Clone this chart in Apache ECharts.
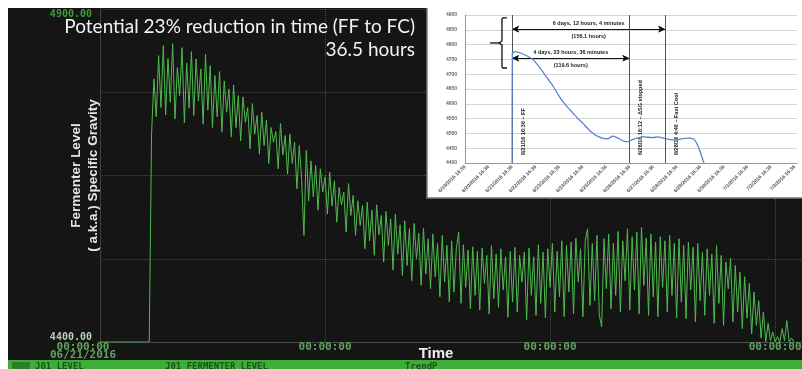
<!DOCTYPE html>
<html>
<head>
<meta charset="utf-8">
<script src="https://cdn.jsdelivr.net/npm/echarts@6.0.0/dist/echarts.min.js"></script>
<style>
  html, body { margin: 0; padding: 0; background: #ffffff; }
  #trend { position: absolute; left: 8px; top: 8px; width: 794px; height: 361px; }
</style>
</head>
<body>
<div id="trend"></div>
<script>
// main trend (J01 fermenter level), one sample every 45 minutes from 06/21/2016 00:00
const levelStartHour = 0;
const levelStepHours = 0.75;
const levelValues = [
  4400, 4400, 4400, 4400, 4400, 4400, 4400, 4400, 4400, 4400, 4400,
  4400, 4400, 4400, 4400, 4400, 4400, 4400, 4400, 4400, 4400, 4400,
  4712, 4795, 4738, 4830, 4752, 4845, 4741, 4826,
  4760, 4848, 4735, 4812, 4770, 4842, 4729, 4819, 4751, 4836,
  4740, 4825, 4762, 4810, 4727, 4832, 4748, 4815, 4722, 4800,
  4738, 4806, 4715, 4792, 4745, 4780, 4708, 4786, 4722, 4770,
  4702, 4768, 4730, 4752, 4690, 4758, 4712, 4740, 4682, 4745,
  4695, 4733, 4668, 4722, 4700, 4716, 4660, 4728, 4681, 4710,
  4652, 4712, 4668, 4700, 4630, 4695, 4645, 4560, 4688, 4612,
  4672, 4618, 4665, 4598, 4660, 4625, 4648, 4592, 4655, 4604,
  4642, 4580, 4632, 4606, 4625, 4565, 4638, 4590, 4620, 4560,
  4612, 4575, 4605, 4540, 4610, 4552, 4598, 4530, 4606, 4561,
  4590, 4520, 4596, 4545, 4585, 4508, 4592, 4532, 4576, 4500,
  4582, 4515, 4570, 4492, 4578, 4525, 4563, 4485, 4571, 4502,
  4555, 4480, 4562, 4498, 4548, 4468, 4560, 4490, 4545, 4460,
  4552, 4475, 4540, 4565, 4458, 4546, 4482, 4538, 4450, 4543,
  4470, 4536, 4448, 4541, 4488, 4530, 4442, 4545, 4465, 4532,
  4452, 4540, 4478, 4528, 4437, 4536, 4460, 4542, 4445, 4530,
  4490, 4535, 4433, 4541, 4470, 4528, 4440, 4546, 4458, 4535,
  4436, 4540, 4482, 4548, 4445, 4536, 4468, 4552, 4438, 4545,
  4475, 4550, 4442, 4556, 4490, 4540, 4438, 4552, 4570, 4455,
  4548, 4462, 4560, 4440, 4423, 4555, 4480, 4562, 4450, 4548,
  4470, 4566, 4445, 4552, 4492, 4570, 4448, 4558, 4478, 4565,
  4442, 4572, 4485, 4556, 4440, 4562, 4468, 4550, 4438, 4558,
  4482, 4552, 4445, 4560, 4470, 4548, 4436, 4555, 4460, 4545,
  4435, 4550, 4478, 4542, 4430, 4548, 4462, 4535, 4440, 4540,
  4470, 4532, 4428, 4545, 4458, 4530, 4425, 4520, 4480, 4526,
  4430, 4515, 4445, 4505, 4420, 4498, 4436, 4488, 4412, 4475,
  4425, 4462, 4406, 4445, 4400, 4428, 4402, 4415, 4400, 4408,
  4400, 4420, 4402, 4432, 4400, 4406, 4400
];
const mainTickHours = [0, 72, 144, 216];
const mainTickTimes = ["00:00:00", "00:00:00", "00:00:00", "00:00:00"];
const mainStartDate = "06/21/2016";

// inset (Excel chart), x in days from the first date label
const insetDateLabels = [
  "6/19/2016 16:36", "6/20/2016 16:36", "6/21/2016 16:36", "6/22/2016 16:36",
  "6/23/2016 16:36", "6/24/2016 16:36", "6/25/2016 16:36", "6/26/2016 16:36",
  "6/27/2016 16:36", "6/28/2016 16:36", "6/29/2016 16:36", "6/30/2016 16:36",
  "7/1/2016 16:36", "7/2/2016 16:36", "7/3/2016 16:36"
];
const insetDays = [
  2.0, 2.01, 2.12, 2.34, 2.55, 2.89, 3.10, 3.31, 3.52, 3.74, 3.95, 4.16, 4.37,
  4.59, 4.80, 5.01, 5.22, 5.44, 5.65, 5.86, 6.07, 6.28, 6.50, 6.71, 6.92,
  7.13, 7.35, 7.56, 7.77, 7.98, 8.20, 8.41, 8.62, 8.83, 9.04, 9.24, 9.47,
  9.72, 9.85, 9.98, 10.06, 10.15
];
const insetValues = [
  4400, 4770, 4776, 4772, 4765, 4750, 4730, 4708, 4684, 4660, 4632, 4607, 4587,
  4568, 4550, 4534, 4516, 4500, 4490, 4483, 4482, 4491, 4484, 4475, 4472,
  4480, 4485, 4489, 4487, 4486, 4488, 4484, 4481, 4478, 4479, 4482, 4484,
  4480, 4465, 4440, 4420, 4400
];
const eventDays = [2.0, 6.983, 8.503];
const eventNames = ["6/21/16 16:36 \u2013 FF", "6/26/16 16:12 \u2013 \u0394SG stopped", "6/28/16 4:40 \u2013 Fast Cool"];
const spanLabels = [
  ["6 days, 12 hours, 4 minutes", "(156.1 hours)"],
  ["4 days, 23 hours, 36 minutes", "(119.6 hours)"]
];
const spanLevels = [4852, 4754];
const braceInfo = [1.57, 4890, 4721, 1.06];

const chartDom = document.getElementById("trend");
const trendChart = echarts.init(chartDom);

const mono = "DejaVu Sans Mono";
const tiny = { fontFamily: "Liberation Sans", fontWeight: "bold", fontSize: 5.5, color: "#222" };

const spanLines = [];
spanLabels.forEach((lbl, k) => {
  const endDay = k === 0 ? eventDays[2] : eventDays[1];
  spanLines.push([
    { coord: [eventDays[0], spanLevels[k]], label: Object.assign({ show: true, position: "insideMiddleTop", distance: 3, formatter: lbl[0] }, tiny) },
    { coord: [endDay, spanLevels[k]] }
  ]);
  spanLines.push([
    { coord: [eventDays[0], spanLevels[k]], label: Object.assign({ show: true, position: "insideMiddleBottom", distance: 4, formatter: lbl[1] }, tiny) },
    { coord: [endDay, spanLevels[k]] }
  ]);
});

const option = {
  backgroundColor: "#151515",
  animation: false,
  title: {
    text: "Potential 23% reduction in time (FF to FC)\n36.5 hours",
    left: 407,
    textAlign: "right",
    top: 7,
    padding: 0,
    textStyle: { color: "#f2f2f2", fontFamily: "Lato", fontWeight: "normal", fontSize: 19, lineHeight: 23, align: "right" }
  },
  grid: [
    { left: 92, right: 0, top: 1, bottom: 27, outerBoundsMode: "none" },
    { left: 457, right: 5, top: 7, bottom: 206, outerBoundsMode: "none" }
  ],
  xAxis: [
    {
      type: "value", gridIndex: 0, min: 0, max: 224.6, interval: 72,
      name: "Time", nameLocation: "middle", nameGap: 4, nameMoveOverlap: false,
      nameTextStyle: { color: "#f0f0f0", fontFamily: "Liberation Sans", fontWeight: "bold", fontSize: 15, verticalAlign: "top", padding: [0, 30, 0, 0] },
      axisLine: { lineStyle: { color: "#5a5a5a", type: "dotted" } },
      axisTick: { show: false },
      splitLine: { show: true, lineStyle: { color: "#4a4a4a", type: "dotted" } },
      axisLabel: {
        margin: 1, color: "#5aa55a", fontFamily: mono, fontWeight: "bold", fontSize: 11, lineHeight: 9,
        formatter: (v) => {
          const k = mainTickHours.indexOf(v);
          if (k < 0) return "";
          if (k === 0) return "{first|" + mainTickTimes[0] + "}\n{first|" + mainStartDate + "}";
          return mainTickTimes[k];
        },
        rich: { first: { color: "#5aa55a", fontFamily: mono, fontWeight: "bold", fontSize: 11, lineHeight: 8, padding: [0, 34, 0, 0] } }
      }
    },
    {
      type: "value", gridIndex: 1, min: 0, max: 14.1, interval: 1, z: 3,
      axisLine: { lineStyle: { color: "#999" } },
      axisTick: { show: false },
      splitLine: { show: false },
      axisLabel: {
        rotate: 45, margin: 3, fontSize: 5, color: "#555", fontFamily: "Liberation Sans", fontWeight: "bold",
        hideOverlap: false,
        formatter: (v) => (Number.isInteger(v) && insetDateLabels[v]) ? insetDateLabels[v] : ""
      }
    }
  ],
  yAxis: [
    {
      type: "value", gridIndex: 0, min: 4400, max: 4900, interval: 125,
      name: "Fermenter Level\n( a.k.a.) Specific Gravity",
      nameLocation: "middle", nameRotate: 90, nameGap: -2, nameMoveOverlap: false,
      nameTextStyle: { color: "#e6e6e6", fontFamily: "Liberation Sans", fontWeight: "bold", fontSize: 13.5, lineHeight: 17 },
      axisLine: { show: true, lineStyle: { color: "#4a4a4a", type: "dotted" } },
      axisTick: { show: false },
      splitLine: { lineStyle: { color: "#4a4a4a", type: "dotted" } },
      axisLabel: {
        margin: 8, fontFamily: mono, fontWeight: "bold", fontSize: 10,
        verticalAlignMaxLabel: "top", verticalAlignMinLabel: "bottom",
        color: (v) => (Number(v) === 4900 ? "#3c9c3c" : "#b4d2b4"),
        formatter: (v) => (v === 4400 || v === 4900) ? v.toFixed(2) : ""
      }
    },
    {
      type: "value", gridIndex: 1, min: 4400, max: 4900, interval: 50, z: 3,
      axisLine: { show: true, lineStyle: { color: "#999" } },
      axisTick: { show: false },
      splitLine: { lineStyle: { color: "#d4d4d4" } },
      axisLabel: { margin: 8, fontSize: 5, color: "#666", fontFamily: "Liberation Sans", fontWeight: "bold", formatter: (v) => String(v) }
    }
  ],
  graphic: [
    { type: "rect", id: "insetBg", z: 1, shape: { x: 419, y: -2, width: 377, height: 192 },
      style: { fill: "#ffffff", stroke: "#7a7a7a", lineWidth: 1.5 } },
    { type: "rect", id: "statusBar", z: 10, shape: { x: -8, y: 352, width: 810, height: 10 }, style: { fill: "#3dae38" } },
    { type: "rect", id: "statusKey", z: 11, shape: { x: 4, y: 354, width: 18, height: 8 }, style: { fill: "#2b7f2b" } },
    { type: "text", id: "st1", z: 11, x: 27, y: 354, style: { text: "J01 LEVEL", fill: "#1d4f1d", font: "bold 9px DejaVu Sans Mono" } },
    { type: "text", id: "st2", z: 11, x: 157, y: 354, style: { text: "J01 FERMENTER LEVEL", fill: "#1d4f1d", font: "bold 9px DejaVu Sans Mono" } },
    { type: "text", id: "st3", z: 11, x: 397, y: 354, style: { text: "TrendP", fill: "#1d4f1d", font: "bold 9px DejaVu Sans Mono" } }
  ],
  series: [
    {
      name: "J01 FERMENTER LEVEL", type: "line", xAxisIndex: 0, yAxisIndex: 0,
      showSymbol: false, sampling: null, z: 2,
      lineStyle: { color: "#4dbb4d", width: 1 },
      data: levelValues.map((v, i) => [levelStartHour + i * levelStepHours, v])
    },
    {
      name: "Inset SG", type: "line", xAxisIndex: 1, yAxisIndex: 1, z: 5,
      showSymbol: false, smooth: 0.2,
      lineStyle: { color: "#5b84c8", width: 1.3 },
      data: insetDays.map((d, i) => [d, insetValues[i]]),
      markLine: {
        silent: true, symbol: ["arrow", "arrow"], symbolSize: [5, 7], precision: 3,
        lineStyle: { color: "#111", width: 1, type: "solid" },
        data: spanLines
      }
    },
    {
      name: "Events", type: "line", xAxisIndex: 1, yAxisIndex: 1, z: 5, data: [],
      markLine: {
        silent: true, symbol: "none", precision: 3,
        lineStyle: { color: "#555", width: 1, type: "solid" },
        data: eventDays.map((d, k) => ({
          xAxis: d,
          label: Object.assign({ show: true, position: "insideStartBottom", distance: 8, formatter: eventNames[k] }, tiny)
        }))
      }
    },
    {
      name: "Brace", type: "custom", xAxisIndex: 1, yAxisIndex: 1, z: 6, silent: true,
      data: [braceInfo],
      renderItem: (params, api) => {
        const top = api.coord([api.value(0), api.value(1)]);
        const bot = api.coord([api.value(0), api.value(2)]);
        const tip = api.coord([api.value(3), api.value(1)]);
        const x = top[0];
        const midY = (top[1] + bot[1]) / 2;
        return {
          type: "group",
          children: [
            { type: "polyline", shape: { points: [[x + 5, top[1]], [x + 1, top[1]], [x, top[1] + 1], [x, midY - 2], [x - 3, midY], [x, midY + 2], [x, bot[1] - 1], [x + 1, bot[1]], [x + 5, bot[1]]] },
              style: { stroke: "#111", lineWidth: 1.3, fill: null } },
            { type: "line", shape: { x1: tip[0], y1: midY, x2: x - 3, y2: midY }, style: { stroke: "#111", lineWidth: 1.3 } }
          ]
        };
      }
    }
  ]
};

trendChart.setOption(option);
window.onresize = () => {
  trendChart.resize();
};
</script>
</body>
</html>
